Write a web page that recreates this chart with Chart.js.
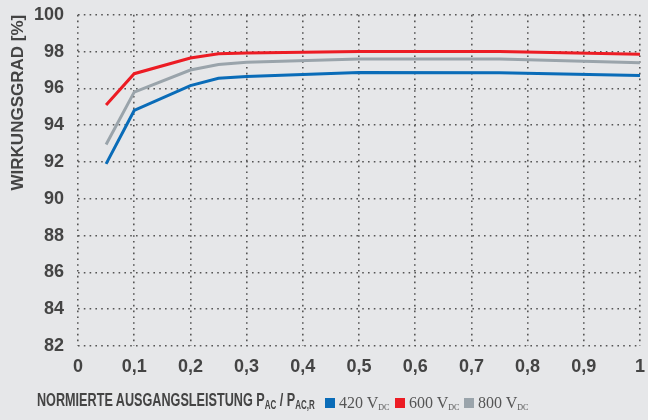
<!DOCTYPE html>
<html>
<head>
<meta charset="utf-8">
<script src="https://cdn.jsdelivr.net/npm/chart.js@4"></script>
<style>
 html, body { margin: 0; padding: 0; background: #e6e7e9; }
 #wrap { position: relative; width: 648px; height: 420px; overflow: hidden; }
 #effChart { position: absolute; left: 0; top: -10px; }
 #xTitle {
  position: absolute; left: 37px; top: 389px; white-space: nowrap;
  font-family: "Liberation Sans", sans-serif;
  font-weight: bold; font-size: 19px; color: #444;
  transform: scaleX(0.665); transform-origin: 0 0;
 }
 #xTitle sub { font-size: 12px; vertical-align: -3px; }
 .leg {
  position: absolute; top: 394px; white-space: nowrap;
  font-family: "Liberation Serif", serif; font-size: 16px; color: #555;
 }
 .leg sub { font-size: 8px; vertical-align: -2px; }
 .sw { display: inline-block; width: 10px; height: 10px; margin-right: 4px; }
</style>
</head>
<body>
<div id="wrap">
 <canvas id="effChart" width="655" height="430"></canvas>
 <div id="xTitle">NORMIERTE AUSGANGSLEISTUNG P<sub>AC</sub> / P<sub>AC,R</sub></div>
 <span class="leg" style="left:325px"><span class="sw" style="background:#0a6cb8"></span>420 V<sub>DC</sub></span>
 <span class="leg" style="left:395px"><span class="sw" style="background:#ec1c24"></span>600 V<sub>DC</sub></span>
 <span class="leg" style="left:464px"><span class="sw" style="background:#9aa4ab"></span>800 V<sub>DC</sub></span>
</div>
<script>
var loadLevels = [0.05, 0.1, 0.2, 0.25, 0.3, 0.5, 0.75, 1];
var eff420 = [91.9, 94.8, 96.15, 96.55, 96.65, 96.87, 96.85, 96.7];
var eff600 = [95.1, 96.8, 97.65, 97.88, 97.93, 98.0, 98.0, 97.85];
var eff800 = [92.95, 95.8, 97.0, 97.3, 97.42, 97.6, 97.6, 97.4];
var yTicks = [82, 84, 86, 88, 90, 92, 94, 96, 98, 100];

var axisFont = "'Liberation Sans Narrow', 'Liberation Sans', sans-serif";
var gridStyle = {
 color: "#555",
 lineWidth: 1.6,
 drawTicks: false,
};
var dotted = { display: false, dash: [1.6, 4.2] };

function toPoints(values) {
 return loadLevels.map(function (x, i) {
  return { x: x, y: values[i] };
 });
}

function makeSet(label, values, color) {
 return {
  label: label,
  data: toPoints(values),
  borderColor: color,
  backgroundColor: color,
  borderWidth: 3,
  pointRadius: 0,
  tension: 0,
 };
}

var ctx = document.getElementById("effChart");
new Chart(ctx, {
 type: "line",
 data: {
  datasets: [
   makeSet("800 VDC", eff800, "#9aa4ab"),
   makeSet("420 VDC", eff420, "#0a6cb8"),
   makeSet("600 VDC", eff600, "#ec1c24"),
  ],
 },
 options: {
  responsive: false,
  animation: false,
  layout: { padding: 0 },
  plugins: { legend: { display: false }, tooltip: { enabled: false } },
  scales: {
   x: {
    type: "linear",
    min: 0,
    max: 1,
    grid: gridStyle,
    border: dotted,
    afterFit: function (scale) { scale.height = 74; },
    ticks: {
     stepSize: 0.1,
     padding: 10,
     color: "#444",
     font: { family: axisFont, size: 18, weight: "bold" },
     callback: function (v) {
      return String(Math.round(v * 10) / 10).replace(".", ",");
     },
    },
   },
   y: {
    min: 82,
    max: 100,
    grid: gridStyle,
    border: dotted,
    afterFit: function (scale) { scale.width = 78; },
    afterBuildTicks: function (scale) {
     scale.ticks = yTicks.map(function (v) { return { value: v }; });
    },
    title: {
     display: true,
     text: "WIRKUNGSGRAD [%]",
     align: "end",
     color: "#444",
     padding: { top: 8, bottom: 0 },
     font: { family: axisFont, size: 17, weight: "bold" },
    },
    ticks: {
     padding: 14,
     color: "#444",
     font: { family: axisFont, size: 18, weight: "bold" },
    },
   },
  },
 },
});
</script>
</body>
</html>
